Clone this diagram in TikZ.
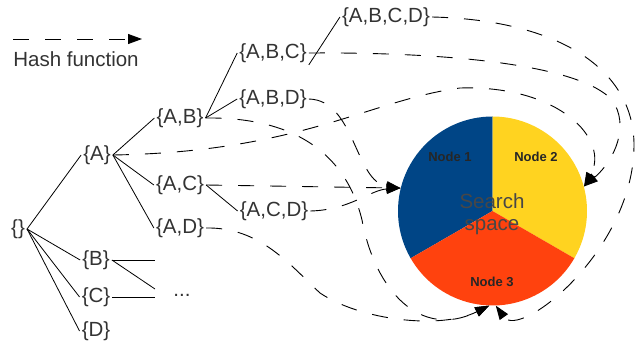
\documentclass[tikz,border=0pt]{standalone}
\usepackage{fontspec}
\setmainfont{Liberation Sans}
\usetikzlibrary{arrows.meta}
\definecolor{nodeone}{HTML}{004586}
\definecolor{nodetwo}{HTML}{FFD320}
\definecolor{nodethree}{HTML}{FF420E}
\tikzset{
  subset/.style={inner sep=2pt, text height=15pt, text depth=4.3pt,
                 font=\fontsize{20.5}{24}\selectfont, text=black!80},
  edge/.style={line width=0.8pt},
  hash/.style={line width=0.9pt, dash pattern=on 16pt off 16pt,
               -{Triangle[length=14pt,width=10pt]}},
  part/.style={font=\bfseries\fontsize{13}{15}\selectfont, text=black!85},
}
\begin{document}
\begin{tikzpicture}[x=1pt,y=-1pt]%{{{
\useasboundingbox (0,0) rectangle (638,345);
%
% Espace de recherche
\begin{scope}[shift={(492.5,211)},yscale=-1]
\fill [nodeone]   (0,0) -- (90:94.5)  arc (90:210:94.5)  -- cycle;
\fill [nodetwo]   (0,0) -- (-30:94.5) arc (-30:90:94.5)  -- cycle;
\fill [nodethree] (0,0) -- (210:94.5) arc (210:330:94.5) -- cycle;
\end{scope}
\node [circle, minimum size=189pt, inner sep=0pt] (space) at (492.5,211) {};
\node [part] (n1) at (450,157) {Node 1};
\node [part] (n2) at (536,157) {Node 2};
\node [part] (n3) at (492,282) {Node 3};
\node [align=center, font=\fontsize{20.5}{22.5}\selectfont, text=black!72]
      (label) at (492,214) {Search\\space};
%
% Legende
\coordinate (keyfrom) at (13,39);
\coordinate (keyto)   at (142,39);
\draw [hash] (keyfrom) -- (keyto);
\node [subset, text height=, text depth=] (key) at (76,59) {Hash function};
%
% Arbre des sous-ensembles
\node [subset] (empty) at (18,229)  {\{\}};
\node [subset] (a)     at (97,155)  {\{A\}};
\node [subset] (b)     at (96,260)  {\{B\}};
\node [subset] (c)     at (96,297)  {\{C\}};
\node [subset] (d)     at (96,331)  {\{D\}};
\node [subset] (ab)    at (180,118) {\{A,B\}};
\node [subset] (ac)    at (180,185) {\{A,C\}};
\node [subset] (ad)    at (180,228) {\{A,D\}};
\node [subset] (abc)   at (273,53)  {\{A,B,C\}};
\node [subset] (abd)   at (273,99)  {\{A,B,D\}};
\node [subset] (acd)   at (274,211) {\{A,C,D\}};
\node [subset] (abcd)  at (386,17)  {\{A,B,C,D\}};
\node [subset, text height=, text depth=] (more) at (182,295) {...};
%
\foreach \parent/\child in {empty/a, empty/b, empty/c, empty/d,
                            a/ab, a/ac, a/ad, ab/abc, ab/abd, ac/acd}
  \draw [edge] (\parent.east) -- (\child.west);
\draw [edge] (abc.south east) -- (abcd.west);
%
\coordinate (bline) at (155,260);
\coordinate (bdots) at (155,289);
\coordinate (cline) at (155,297);
\draw [edge] (b.east) -- (bline);
\draw [edge] (b.east) -- (bdots);
\draw [edge] (c.east) -- (cline);
%
% Fonction de hachage
\draw [hash] (abcd.east) .. controls (560,20) and (634,70) .. (634,145)
                         .. controls (634,250) and (520,340) .. (space.272);
\draw [hash] (abc.east) .. controls (450,52) and (580,65) .. (612,100)
                        .. controls (630,125) and (615,160) .. (space.15);
\draw [hash] (a.east) .. controls (300,152) and (370,100) .. (460,88)
                      .. controls (560,85) and (610,140) .. (space.15);
\draw [hash] (abd.east) .. controls (355,100) and (355,182) .. (space.166);
\draw [hash] (ac.east) -- (space.166);
\draw [hash] (acd.east) .. controls (350,210) and (370,190) .. (space.166);
\draw [hash] (ab.east) .. controls (290,117) and (345,150) .. (362,220)
                       .. controls (375,290) and (420,340) .. (space.268);
\draw [hash] (ad.east) .. controls (260,227) and (290,265) .. (320,293)
                       .. controls (360,320) and (440,330) .. (space.268);
%
\end{tikzpicture}
\end{document}
